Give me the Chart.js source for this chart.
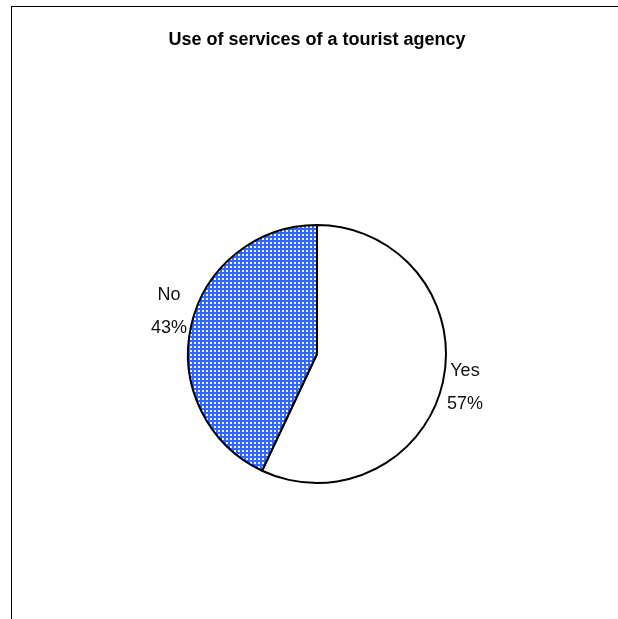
<!DOCTYPE html>
<html>
<head>
<meta charset="utf-8">
<title>Use of services of a tourist agency</title>
<script src="https://cdn.jsdelivr.net/npm/chart.js@4/dist/chart.umd.min.js"></script>
<style>
  html, body { margin: 0; padding: 0; background: #fff; }
  #wrap { position: relative; width: 618px; height: 619px; overflow: hidden; }
  #frame { position: absolute; left: 11px; top: 6px; right: -10px; bottom: -10px;
           border-top: 1px solid #000; border-left: 1px solid #000; }
  canvas { position: absolute; left: 0; top: 0; }
</style>
</head>
<body>
<div id="wrap">
  <div id="frame"></div>
  <canvas id="chart" width="618" height="619"></canvas>
</div>
<script>
// Survey answers and their shares (percent)
const categories = ['Yes', 'No'];
const shares = [57, 43];
const chartTitle = 'Use of services of a tourist agency';

// Blue checkered fill for the "No" slice
function checkerPattern() {
  const tile = document.createElement('canvas');
  tile.width = 4; tile.height = 4;
  const t = tile.getContext('2d');
  t.fillStyle = '#3366ff';
  t.fillRect(0, 0, 4, 4);
  t.fillStyle = '#f2f5ff';
  t.fillRect(2, 2, 2, 2);
  return t.createPattern(tile, 'repeat');
}

// Outside labels: category name on one line, percentage below
const outsideLabels = {
  id: 'outsideLabels',
  afterDatasetsDraw(chart, args, opts) {
    const ctx = chart.ctx;
    const meta = chart.getDatasetMeta(0);
    ctx.save();
    ctx.font = opts.font;
    ctx.fillStyle = opts.color;
    ctx.textAlign = 'center';
    ctx.textBaseline = 'middle';
    meta.data.forEach((arc, i) => {
      const p = arc.getProps(['x', 'y', 'startAngle', 'endAngle', 'outerRadius'], true);
      const mid = (p.startAngle + p.endAngle) / 2;
      const r = p.outerRadius + opts.offset;
      const nudge = (opts.nudge && opts.nudge[i]) || 0;
      const cx = p.x + Math.cos(mid) * r;
      const cy = p.y + Math.sin(mid) * r + nudge;
      const lines = [chart.data.labels[i], shares[i] + '%'];
      lines.forEach((txt, k) => {
        ctx.fillText(txt, cx, cy + (k - (lines.length - 1) / 2) * opts.lineSpacing);
      });
    });
    ctx.restore();
  }
};

new Chart(document.getElementById('chart'), {
  type: 'pie',
  data: {
    labels: categories,
    datasets: [{
      data: shares,
      backgroundColor: ['#ffffff', checkerPattern()],
      borderColor: '#000000',
      borderWidth: 2,
      hoverOffset: 0
    }]
  },
  options: {
    responsive: false,
    devicePixelRatio: 1,
    animation: false,
    radius: 129,
    layout: { padding: { left: 16, right: 0, top: 0, bottom: 125 } },
    plugins: {
      legend: { display: false },
      tooltip: { enabled: false },
      title: {
        display: true,
        text: chartTitle,
        color: '#000',
        font: { family: 'Liberation Sans, Arial, sans-serif', size: 18, weight: 'bold', lineHeight: 1.2 },
        padding: { top: 29, bottom: 163.4 }
      },
      outsideLabels: {
        font: '18px "Liberation Sans", Arial, sans-serif',
        color: '#111',
        offset: 22.6,
        lineSpacing: 33,
        nudge: [0, -9]
      }
    }
  },
  plugins: [outsideLabels]
});
</script>
</body>
</html>
